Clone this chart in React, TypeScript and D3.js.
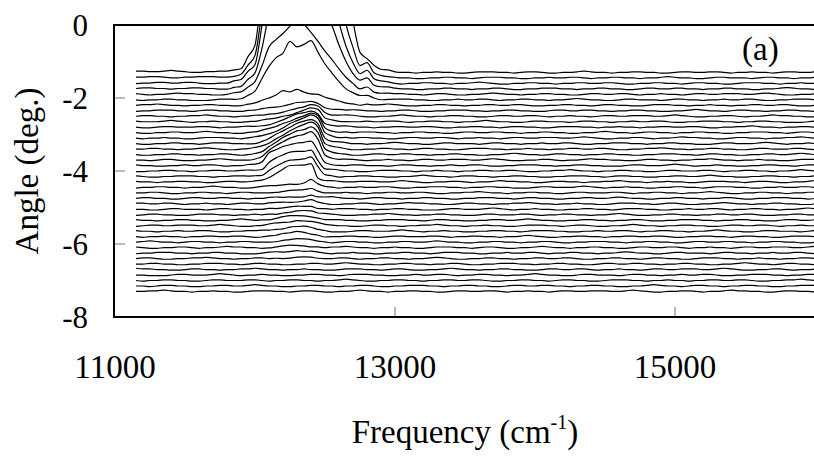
import * as d3 from 'd3';

// angle offset of each spectrum (deg), top to bottom
const angles = [
  -1.3, -1.45, -1.6, -1.75, -1.9, -2.05, -2.2, -2.35, -2.5, -2.65, -2.8,
  -2.95, -3.1, -3.25, -3.4, -3.55, -3.7, -3.85, -4.0, -4.15, -4.3, -4.45,
  -4.6, -4.75, -4.9, -5.05, -5.2, -5.35, -5.5, -5.65, -5.8, -5.95, -6.1,
  -6.25, -6.4, -6.55, -6.7, -6.85, -7.0, -7.15, -7.3,
];

// frequencies (cm-1) where the peak heights below are read
const peakGrid = [
  11800, 11900, 12000, 12050, 12100, 12150, 12200, 12250, 12300, 12350, 12400,
  12450, 12500, 12550, 12600, 12650, 12700, 12750, 12800, 12850, 12900, 13000,
];

// peak height above each line's offset (deg), one row per spectrum
const peaks = [
  [0.02, 0.12, 0.75, 2.2, 3.5, 4, 4, 4, 4, 4, 4, 4, 4, 3.8, 3.2, 2.2, 1.4, 0.55, 0.38, 0.18, 0.07, 0],
  [0.02, 0.1, 0.6, 1.8, 3.2, 4, 4, 4, 4, 4, 4, 4, 3.8, 3.2, 2.4, 1.45, 0.8, 0.32, 0.42, 0.16, 0.07, 0],
  [0.01, 0.09, 0.5, 1.6, 3, 4, 4, 4, 4, 4, 4, 3.8, 3.0, 2.2, 1.65, 1.0, 0.55, 0.27, 0.36, 0.13, 0.05, 0],
  [0.01, 0.07, 0.42, 1.1, 2.1, 3, 3.2, 3.3, 3.3, 3.3, 3.2, 2.6, 2.1, 1.75, 1.2, 0.75, 0.4, 0.22, 0.3, 0.1, 0.04, 0],
  [0, 0.05, 0.35, 0.8, 1.3, 1.5, 1.65, 1.85, 2.05, 1.9, 1.7, 1.45, 1.2, 0.95, 0.7, 0.45, 0.3, 0.15, 0.22, 0.08, 0.03, 0],
  [0, 0.03, 0.22, 0.55, 0.9, 1.15, 1.3, 1.6, 1.45, 1.5, 1.62, 1.3, 1.0, 0.75, 0.5, 0.3, 0.18, 0.1, 0.12, 0.05, 0.02, 0],
  [0, 0.01, 0.05, 0.12, 0.2, 0.28, 0.4, 0.35, 0.42, 0.36, 0.33, 0.3, 0.22, 0.15, 0.1, 0.06, 0.04, 0.02, 0.03, 0.01],
  [0, 0, 0.02, 0.04, 0.07, 0.1, 0.13, 0.16, 0.19, 0.22, 0.26, 0.2, 0.1, 0.06, 0.04, 0.02, 0.01],
  [0, 0, 0.01, 0.03, 0.06, 0.09, 0.13, 0.17, 0.2, 0.24, 0.3, 0.28, 0.1, 0.05, 0.03, 0.02, 0.01],
  [0, 0, 0.01, 0.03, 0.06, 0.1, 0.15, 0.2, 0.25, 0.3, 0.36, 0.32, 0.1, 0.05, 0.03, 0.02],
  [0, 0, 0.02, 0.04, 0.08, 0.13, 0.2, 0.27, 0.33, 0.38, 0.44, 0.38, 0.12, 0.05, 0.03, 0.02],
  [0, 0, 0.02, 0.05, 0.1, 0.17, 0.25, 0.33, 0.4, 0.46, 0.52, 0.45, 0.13, 0.06, 0.03, 0.02],
  [0, 0, 0.02, 0.05, 0.12, 0.2, 0.3, 0.4, 0.48, 0.54, 0.6, 0.52, 0.15, 0.06, 0.03, 0.02],
  [0, 0, 0.02, 0.06, 0.14, 0.24, 0.35, 0.45, 0.54, 0.6, 0.66, 0.56, 0.15, 0.06, 0.03, 0.01],
  [0, 0, 0.03, 0.07, 0.16, 0.28, 0.4, 0.5, 0.6, 0.66, 0.72, 0.6, 0.15, 0.06, 0.03, 0.01],
  [0, 0, 0.03, 0.08, 0.2, 0.32, 0.45, 0.56, 0.65, 0.7, 0.76, 0.6, 0.14, 0.05, 0.03, 0.01],
  [0, 0, 0.03, 0.1, 0.25, 0.38, 0.5, 0.6, 0.68, 0.72, 0.78, 0.55, 0.12, 0.05, 0.02, 0.01],
  [0, 0, 0.02, 0.1, 0.35, 0.45, 0.52, 0.57, 0.6, 0.6, 0.65, 0.4, 0.08, 0.04, 0.02],
  [0, 0, 0.02, 0.06, 0.25, 0.36, 0.44, 0.5, 0.52, 0.54, 0.57, 0.3, 0.06, 0.03, 0.01],
  [0, 0, 0.02, 0.05, 0.18, 0.28, 0.36, 0.43, 0.46, 0.48, 0.52, 0.25, 0.05, 0.02],
  [0, 0, 0.01, 0.03, 0.12, 0.25, 0.35, 0.45, 0.44, 0.46, 0.5, 0.12, 0.04, 0.02],
  [0, 0, 0, 0.01, 0.03, 0.05, 0.07, 0.09, 0.1, 0.12, 0.2, 0.08, 0.03, 0.01],
  [0, 0, 0, 0, 0.02, 0.03, 0.04, 0.05, 0.06, 0.07, 0.12, 0.05, 0.02],
  [0, 0, 0, 0, 0.01, 0.02, 0.03, 0.04, 0.05, 0.06, 0.09, 0.04, 0.02, 0.01],
  [0, 0, 0, 0, 0.01, 0.02, 0.03, 0.04, 0.05, 0.06, 0.08, 0.03, 0.01],
  [0, 0, 0, 0, 0.01, 0.02, 0.04, 0.05, 0.07, 0.08, 0.1, 0.04, 0.02],
  [0, 0, 0, 0, 0.02, 0.03, 0.05, 0.07, 0.09, 0.1, 0.11, 0.05, 0.02],
  [0, 0, 0, 0.01, 0.03, 0.05, 0.08, 0.11, 0.13, 0.12, 0.11, 0.06, 0.02],
  [0, 0, 0, 0.01, 0.03, 0.06, 0.09, 0.12, 0.14, 0.13, 0.1, 0.05, 0.02],
  [0, 0, 0, 0.01, 0.03, 0.05, 0.08, 0.11, 0.13, 0.12, 0.09, 0.05, 0.02],
  [0, 0, 0, 0.01, 0.02, 0.04, 0.07, 0.09, 0.11, 0.1, 0.07, 0.04, 0.01],
  [0, 0, 0, 0, 0.02, 0.03, 0.05, 0.07, 0.08, 0.07, 0.05, 0.03, 0.01],
  [0, 0, 0, 0, 0.01, 0.02, 0.03, 0.05, 0.06, 0.05, 0.04, 0.02],
  [0, 0, 0, 0, 0.01, 0.02, 0.03, 0.04, 0.07, 0.03, 0.02, 0.01],
  [0, 0, 0, 0, 0, 0.01, 0.02, 0.03, 0.04, 0.03, 0.02, 0.01],
  [], [], [], [], [], [],
];

const noise = [
  [1,1,0,0,1,2,1,0,-1,-1,0,0,1,1,0,-1,0,0,1,2,1,1,0,0,-1,-1,0,1,1,0,0,-1,0,0,1,1,2,1,0,0,-1,0,0,1,0,0,-1,-1,0,1,1,1,0,0,-1,0,1,1,0,-1,-1,0,0,1,2,1,0,0,-1,0,0,1,1,0,0,-1,-1,0,1,1,0,0,1,1,0,-1,0,0,1,0,0,-1,0,1,1,0,0,1],
  [0,0,1,1,0,-1,-1,0,0,1,1,1,0,0,-1,0,0,1,1,0,0,-1,-1,-1,0,1,1,0,0,0,1,2,1,0,-1,0,0,1,0,0,-1,-1,0,0,1,1,0,0,-1,0,1,1,1,0,0,-1,-1,0,0,1,0,0,1,1,0,-1,0,0,1,1,0,0,-1,0,0,1,2,1,0,0,-1,-1,0,1,1,0,0,0,-1,0,1,1,0,0,-1,0,0,1],
  [-1,0,0,1,1,0,0,1,1,0,-1,-1,0,0,1,1,2,1,0,0,-1,0,0,1,1,0,0,-1,-1,0,1,1,0,0,0,1,1,0,-1,0,0,1,1,0,0,-1,0,0,1,2,1,0,-1,-1,0,0,1,1,0,0,-1,0,0,1,1,0,0,1,1,0,-1,-1,0,0,1,1,0,0,-1,0,1,1,0,0,-1,-1,0,1,1,1,0,0,-1,0,0,1,0,0],
  [0,1,1,0,0,-1,0,0,1,1,0,0,-1,-1,0,0,1,1,1,0,0,-1,0,1,1,0,0,-1,-1,0,0,1,1,0,0,1,2,1,0,0,-1,-1,0,0,1,1,0,0,-1,0,0,1,1,0,-1,-1,0,0,1,1,1,0,0,-1,0,0,1,1,0,0,-1,-1,0,1,1,0,0,1,1,0,0,-1,0,0,1,1,0,0,-1,-1,0,0,1,2,1,0,0,-1],
];

const xTicks = [11000, 13000, 15000];
const yTicks = [0, -2, -4, -6, -8];

const W = 814;
const H = 458;
const serif = '"Liberation Serif", "Times New Roman", serif';

export default function App() {
  const x = d3.scaleLinear().domain([11000, 16000]).range([115, 815]);
  const y = d3.scaleLinear().domain([-8, 0]).range([317, 25]);
  const freqs = d3.range(11150, 16001, 50);

  const line = d3
    .line<{ f: number; v: number }>()
    .x((d) => x(d.f))
    .y((d) => y(d.v))
    .curve(d3.curveMonotoneX);

  const paths = angles.map((a, i) => {
    const h = peaks[i];
    const pk = d3
      .scaleLinear()
      .domain(peakGrid)
      .range(peakGrid.map((_, j) => h[j] ?? 0))
      .clamp(true);
    const nz = noise[i % 4];
    const shift = 13 * Math.floor(i / 4);
    const pts = freqs.map((f, k) => ({
      f,
      v: a + pk(f) + 0.018 * nz[(k + shift) % nz.length],
    }));
    return line(pts) as string;
  });

  const [x0, x1] = x.range();
  const [yb, yt] = y.range();

  return (
    <svg
      width={W}
      height={H}
      style={{ position: 'absolute', left: 0, top: 0, background: '#fff' }}
    >
      <defs>
        <clipPath id="plot">
          <rect x={x0 - 1} y={yt} width={x1 - x0 + 2} height={yb - yt} />
        </clipPath>
      </defs>

      <g clipPath="url(#plot)" fill="none" stroke="#000" strokeWidth={1.2}>
        {paths.map((d, i) => (
          <path key={i} d={d} />
        ))}
      </g>

      {/* inner ticks */}
      {yTicks.slice(1, -1).map((t) => (
        <line key={t} x1={x0} x2={x0 + 10} y1={y(t)} y2={y(t)} stroke="#777" strokeWidth={1} />
      ))}
      {xTicks.slice(1).map((t) => (
        <line key={t} x1={x(t)} x2={x(t)} y1={yb} y2={yb - 10} stroke="#777" strokeWidth={1} />
      ))}

      <rect
        x={x0 - 1}
        y={yt}
        width={x1 - x0 + 2}
        height={yb - yt}
        fill="none"
        stroke="#000"
        strokeWidth={2}
      />

      <g style={{ fontFamily: serif }} fill="#000">
        {yTicks.map((t) => (
          <text key={t} x={88} y={y(t) + 11} fontSize={31} textAnchor="end">
            {t}
          </text>
        ))}
        {xTicks.map((t) => (
          <text key={t} x={x(t)} y={378} fontSize={33} textAnchor="middle">
            {t}
          </text>
        ))}
        <text x={465} y={443} fontSize={33} textAnchor="middle">
          Frequency (cm
          <tspan fontSize={20} dy={-14}>-1</tspan>
          <tspan dy={14}>)</tspan>
        </text>
        <text
          transform={`translate(38, ${(yt + yb) / 2}) rotate(-90)`}
          fontSize={33}
          textAnchor="middle"
        >
          Angle (deg.)
        </text>
        <text x={742} y={60} fontSize={33}>
          (a)
        </text>
      </g>
    </svg>
  );
}
